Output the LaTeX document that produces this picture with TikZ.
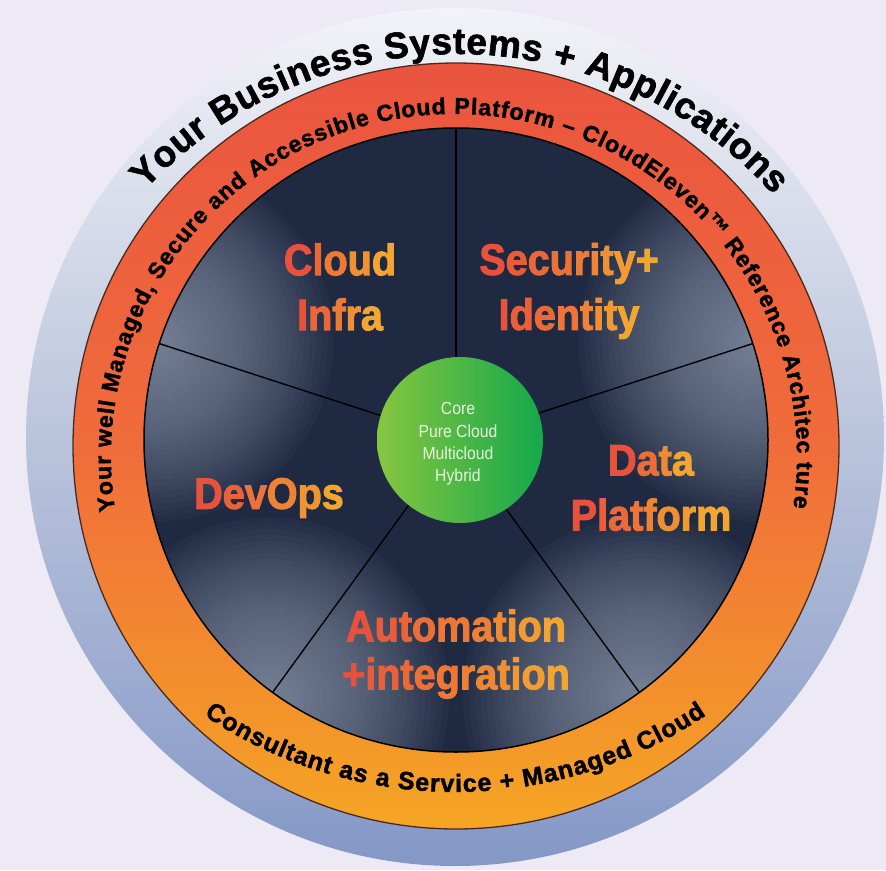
\documentclass[tikz,border=0pt]{standalone}
\usepackage{fontspec}
\usepackage{tikz}
\usetikzlibrary{decorations.text}

\setmainfont{Liberation Sans}
\newfontfamily\ringfont{Liberation Sans}[FakeBold=1.6]
\newfontfamily\segfont{Liberation Sans}[FakeStretch=0.9,FakeBold=2.2]
\newfontfamily\corefont{Liberation Sans}[FakeStretch=0.9]

\definecolor{bgcol}{HTML}{EEEAF5}
\definecolor{bandtop}{HTML}{F2F3F8}
\definecolor{bandmid}{HTML}{BAC4DC}
\definecolor{bandbot}{HTML}{8497C6}
\definecolor{ringtop}{HTML}{EA543F}
\definecolor{ringmid}{HTML}{F06C3B}
\definecolor{ringbot}{HTML}{F5A524}
\definecolor{ringedge}{HTML}{4B2A1E}
\definecolor{segnavy}{HTML}{1F2941}
\definecolor{segglow}{HTML}{A3ADC2}
\definecolor{coreleft}{HTML}{86C640}
\definecolor{coreright}{HTML}{14A84B}
\definecolor{coretext}{HTML}{E8F6DC}
\definecolor{segred}{HTML}{E8513B}
\definecolor{segorange}{HTML}{F2A531}

\newcommand\outerfont{\ringfont\bfseries\fontsize{37}{37}\selectfont}
\newcommand\bandfont{\ringfont\bfseries\fontsize{23}{23}\selectfont}
\newcommand\basefont{\ringfont\bfseries\fontsize{25}{25}\selectfont}

\makeatletter
\newcount\gradcount
\newcount\gradindex
\newcommand\gradword[1]{%
  \global\gradcount=0\relax
  \@tfor\gradchar:=#1\do{\global\advance\gradcount by 1}%
  \global\gradindex=0\relax
  \@tfor\gradchar:=#1\do{%
    \pgfmathtruncatemacro\gradpct{100-100*\gradindex/(\gradcount-1)}%
    \textcolor{segred!\gradpct!segorange}{\gradchar}%
    \global\advance\gradindex by 1}}
\makeatother

\begin{document}
\begin{tikzpicture}[x=1pt,y=1pt,
  spoke/.style={black,line width=1.4pt},
  glow/.style={segglow,opacity=0.04},
  seglabel/.style={align=center,inner sep=0pt,font=\segfont\bfseries\fontsize{44}{55}\selectfont},
  coretext/.style={align=center,inner sep=0pt,text=coretext,font=\corefont\fontsize{17.5}{22.3}\selectfont}]
  \fill[bgcol] (0,0) rectangle (886,-870);
  \useasboundingbox (0,0) rectangle (886,-870);

  \coordinate (hub) at (456,-440);
  \coordinate (band) at (455,-437);
  \coordinate (ring) at (456,-446);
  \coordinate (outerarc) at (457,-480);
  \coordinate (toparc) at (454,-457);
  \coordinate (botarc) at (455,-343);

  \shade[top color=bandtop,bottom color=bandbot,middle color=bandmid] (band) circle (429);
  \path[decorate,decoration={text along path,text align={fit to path},
    text={|\outerfont|Your Business Systems + Applications}}]
    (outerarc) ++(137:426) arc[start angle=137,end angle=42,radius=426];

  \shade[top color=ringtop,bottom color=ringbot,middle color=ringmid] (ring) circle (383);
  \draw[ringedge,line width=1.3pt] (ring) circle (383);
  \path[decorate,decoration={text along path,text align={fit to path},
    text={|\bandfont|Your well Managed, Secure and Accessible Cloud Platform – CloudEleven™ Reference Architec ture}}]
    (toparc) ++(189:343) arc[start angle=189,end angle=-8.5,radius=343];
  \path[decorate,decoration={text along path,text align={fit to path},
    text={|\basefont|Consultant as a Service + Managed Cloud}}]
    (botarc) ++(236:449) arc[start angle=236,end angle=304,radius=449];

  \begin{scope}
    \clip (hub) circle (312);
    \fill[segnavy] (hub) circle (312);
    \foreach \a in {162,18,-54,-126}
      \foreach \r in {6,12,...,180}
        \fill[glow] (hub) ++(\a:318) circle (\r);
  \end{scope}
  \foreach \a in {90,18,-54,-126,162}
    \draw[spoke] (hub) -- ++(\a:312);
  \draw[black,line width=1.5pt] (hub) circle (312);

  \shade[left color=coreleft,right color=coreright] (460,-440) circle (83);
  \node[coretext] (core) at (458,-444) {Core\\Pure Cloud\\Multicloud\\Hybrid};

  \node[seglabel] (infra) at (340,-287) {\gradword{Cloud}\\\gradword{Infra}};
  \node[seglabel] (identity) at (569,-291) {\gradword{Security+}\\\gradword{Identity}};
  \node[seglabel] (devops) at (269,-498) {\gradword{DevOps}};
  \node[seglabel] (data) at (651,-488) {\gradword{Data}\\\gradword{Platform}};
  \node[seglabel,font=\segfont\bfseries\fontsize{44}{48}\selectfont] (automation) at (456,-654)
    {\gradword{Automation}\\\gradword{+integration}};
\end{tikzpicture}
\end{document}
